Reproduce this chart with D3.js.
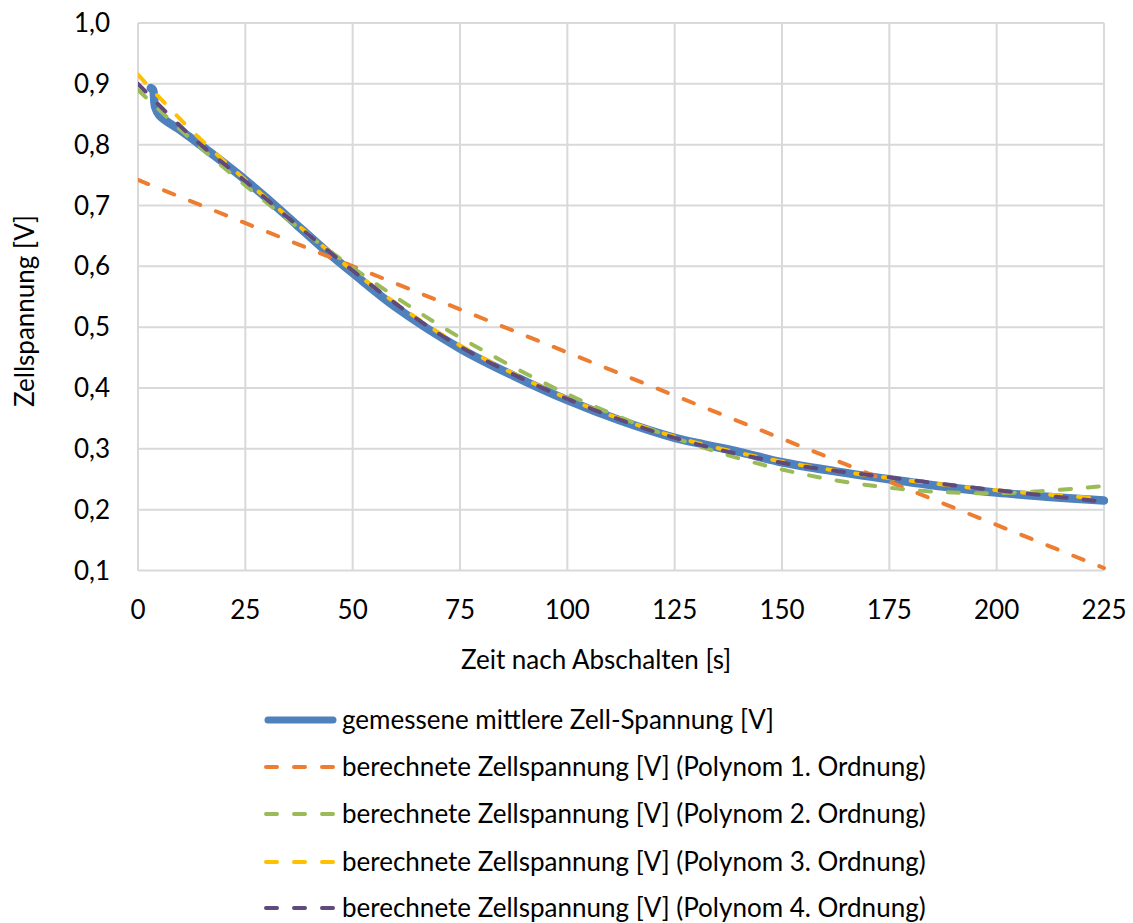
<!DOCTYPE html>
<html>
<head>
<meta charset="utf-8">
<script src="https://cdn.jsdelivr.net/npm/d3@7"></script>
<style>
  body { margin: 0; background: #fff; }
  text { font-family: Lato, "Noto Sans", sans-serif; fill: #000; }
</style>
</head>
<body>
<div id="chart"></div>
<script>
// ---- data ----
const xTicks = [0, 25, 50, 75, 100, 125, 150, 175, 200, 225];
const yTicks = [0.1, 0.2, 0.3, 0.4, 0.5, 0.6, 0.7, 0.8, 0.9, 1.0];

// measured mean cell voltage
const measuredT = [3, 3.5, 4, 5, 10, 15, 20, 25, 30, 37, 44, 50, 60, 75, 87.5, 100, 112.5, 125, 132, 140, 150, 162.5, 175, 187.5, 200, 212.5, 225];
const measuredV = [0.893, 0.89, 0.862, 0.848, 0.823, 0.797, 0.770, 0.742, 0.712, 0.668, 0.624, 0.589, 0.533, 0.465, 0.420, 0.380, 0.346, 0.318, 0.307, 0.295, 0.278, 0.263, 0.250, 0.238, 0.228, 0.221, 0.215];

// fitted polynomials
const poly1T = [0, 225];
const poly1V = [0.742, 0.104];

const polyT = [0, 12.5, 25, 37.5, 50, 62.5, 75, 100, 125, 150, 175, 200, 225];
const poly2V = [0.890, 0.808, 0.733, 0.663, 0.598, 0.538, 0.483, 0.390, 0.318, 0.266, 0.236, 0.227, 0.239];
const poly3V = [0.915, 0.823, 0.742, 0.666, 0.593, 0.527, 0.470, 0.383, 0.320, 0.279, 0.252, 0.232, 0.218];
const poly4V = [0.900, 0.813, 0.740, 0.665, 0.593, 0.526, 0.468, 0.382, 0.318, 0.277, 0.253, 0.232, 0.213];

const legendLabels = [
    "gemessene mittlere Zell-Spannung [V]",
    "berechnete Zellspannung [V] (Polynom 1. Ordnung)",
    "berechnete Zellspannung [V] (Polynom 2. Ordnung)",
    "berechnete Zellspannung [V] (Polynom 3. Ordnung)",
    "berechnete Zellspannung [V] (Polynom 4. Ordnung)"
];
const colors = ["#4f81bd", "#ed7d31", "#9bbb59", "#ffc000", "#604a7b"];

// ---- layout ----
const W = 1133, H = 923;
const plot = {left: 138, right: 1104, top: 23, bottom: 570.5};
const fontSize = "26px";

const svg = d3.select("#chart").append("svg")
    .attr("width", W)
    .attr("height", H);

const x = d3.scaleLinear().domain([0, 225]).range([plot.left, plot.right]);
const y = d3.scaleLinear().domain([0.1, 1.0]).range([plot.bottom, plot.top]);

const fmt = d => d3.format(".1f")(d).replace(".", ",");

// gridlines
svg.append("g")
    .selectAll("line.hgrid").data(yTicks).enter()
    .append("line")
    .attr("x1", plot.left).attr("x2", plot.right)
    .attr("y1", d => y(d)).attr("y2", d => y(d))
    .attr("stroke", "#d9d9d9").attr("stroke-width", 2);

svg.append("g")
    .selectAll("line.vgrid").data(xTicks).enter()
    .append("line")
    .attr("x1", d => x(d)).attr("x2", d => x(d))
    .attr("y1", plot.top).attr("y2", plot.bottom)
    .attr("stroke", "#d9d9d9").attr("stroke-width", 2);

// tick labels
svg.append("g")
    .selectAll("text").data(yTicks).enter()
    .append("text")
    .attr("x", 110)
    .attr("y", d => y(d))
    .attr("dy", "0.35em")
    .attr("text-anchor", "end")
    .style("font-size", fontSize)
    .text(fmt);

svg.append("g")
    .selectAll("text").data(xTicks).enter()
    .append("text")
    .attr("x", d => x(d))
    .attr("y", 610)
    .attr("dy", "0.35em")
    .attr("text-anchor", "middle")
    .style("font-size", fontSize)
    .text(d => d);

// axis titles
svg.append("text")
    .attr("x", 596).attr("y", 660).attr("dy", "0.35em")
    .attr("text-anchor", "middle")
    .style("font-size", fontSize)
    .text("Zeit nach Abschalten [s]");

svg.append("text")
    .attr("transform", "translate(25,311) rotate(-90)")
    .attr("dy", "0.35em")
    .attr("text-anchor", "middle")
    .style("font-size", fontSize)
    .text("Zellspannung [V]");

// lines
svg.append("clipPath").attr("id", "clip")
    .append("rect")
    .attr("x", plot.left).attr("y", plot.top - 10)
    .attr("width", plot.right - plot.left + 4)
    .attr("height", plot.bottom - plot.top + 10);

const line = d3.line()
    .x(d => x(d[0]))
    .y(d => y(d[1]))
    .curve(d3.curveCatmullRom);

const series = [
    {t: measuredT, v: measuredV},
    {t: poly1T, v: poly1V},
    {t: polyT, v: poly2V},
    {t: polyT, v: poly3V},
    {t: polyT, v: poly4V}
];

const lines = svg.append("g").attr("clip-path", "url(#clip)");
series.forEach((s, i) => {
    let pts = s.t.map((t, j) => [t, s.v[j]]);
    let p = lines.append("path")
        .datum(pts)
        .attr("d", line)
        .attr("fill", "none")
        .attr("stroke", colors[i])
        .attr("stroke-linecap", "round")
        .attr("stroke-linejoin", "round");
    if (i === 0) {
        p.attr("stroke-width", 8.5);
    } else {
        p.attr("stroke-width", 4).attr("stroke-dasharray", "11,17");
    }
});

// legend
const legendY = [720, 767, 814, 862, 908];
const legend = svg.append("g")
    .selectAll("g").data(legendLabels).enter()
    .append("g")
    .attr("transform", (d, i) => `translate(0, ${legendY[i]})`);

legend.append("line")
    .attr("x1", (d, i) => i === 0 ? 268 : 266)
    .attr("x2", (d, i) => i === 0 ? 333 : 334)
    .attr("stroke", (d, i) => colors[i])
    .attr("stroke-width", (d, i) => i === 0 ? 7 : 4)
    .attr("stroke-linecap", "round")
    .attr("stroke-dasharray", (d, i) => i === 0 ? null : "11,17");

legend.append("text")
    .attr("x", 342)
    .attr("dy", "0.35em")
    .style("font-size", fontSize)
    .text(d => d);
</script>
</body>
</html>
